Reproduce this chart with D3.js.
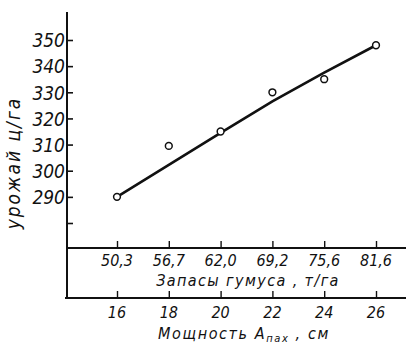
<!DOCTYPE html>
<html><head><meta charset="utf-8">
<script src="https://cdn.jsdelivr.net/npm/d3@7"></script>
<style>
body{margin:0;background:#fff;}
svg text{font-family:"DejaVu Sans Condensed","DejaVu Sans",sans-serif;font-stretch:condensed;font-style:italic;fill:#111;}
</style></head>
<body><svg id="c" width="406" height="344"></svg>
<script>
const thickness = [16, 18, 20, 22, 24, 26];
const humus = ["50,3", "56,7", "62,0", "69,2", "75,6", "81,6"];
const yieldVals = [290, 309.5, 315, 330, 335, 348];
const fitX = [16, 20, 22, 24, 26];
const fitY = [290, 314.5, 326.5, 337.5, 348];
const yTicks = [280, 290, 300, 310, 320, 330, 340, 350];
const yLabels = ["", "290", "300", "310", "320", "330", "340", "350"];

const svg = d3.select("#c");
const x = d3.scaleLinear().domain([16, 26]).range([117, 376]);
const y = d3.scaleLinear().domain([280, 350]).range([223, 40]);
const axX = 67, ax1 = 248, ax2 = 298;

// y axis
const ya = d3.axisLeft(y).tickValues(yTicks).tickSize(-6).tickFormat((d,i)=>yLabels[i]).tickPadding(4);
const gy = svg.append("g").attr("transform",`translate(${axX},0)`).call(ya);
gy.select(".domain").remove();
gy.selectAll(".tick line").attr("stroke","#111").attr("stroke-width",1.6);
gy.selectAll(".tick text").attr("font-size",19).attr("dy","0.36em").attr("x",-2);
svg.append("line").attr("x1",axX).attr("x2",axX).attr("y1",12).attr("y2",ax2+1)
  .attr("stroke","#111").attr("stroke-width",2);

// upper x axis (humus)
const xa1 = d3.axisTop(x).tickValues(thickness).tickSize(7).tickFormat("");
const g1 = svg.append("g").attr("transform",`translate(0,${ax1})`).call(xa1);
g1.select(".domain").remove();
g1.selectAll(".tick line").attr("stroke","#111").attr("stroke-width",1.4);
svg.append("line").attr("x1",axX-1).attr("x2",406).attr("y1",ax1).attr("y2",ax1)
  .attr("stroke","#111").attr("stroke-width",2);
svg.append("g").selectAll("text").data(thickness).join("text")
  .attr("x",d=>x(d)).attr("y",ax1+18).attr("text-anchor","middle").attr("font-size",16)
  .text((d,i)=>humus[i]);
svg.append("text").attr("x",248).attr("y",ax1+38).attr("text-anchor","middle")
  .attr("font-size",16).attr("letter-spacing",1.4).text("Запасы гумуса , т/га");

// lower x axis (thickness)
const xa2 = d3.axisTop(x).tickValues(thickness).tickSize(7).tickFormat("");
const g2 = svg.append("g").attr("transform",`translate(0,${ax2})`).call(xa2);
g2.select(".domain").remove();
g2.selectAll(".tick line").attr("stroke","#111").attr("stroke-width",1.4);
svg.append("line").attr("x1",axX-2).attr("x2",406).attr("y1",ax2).attr("y2",ax2)
  .attr("stroke","#111").attr("stroke-width",2);
svg.append("g").selectAll("text").data(thickness).join("text")
  .attr("x",d=>x(d)).attr("y",ax2+20).attr("text-anchor","middle").attr("font-size",16)
  .text(d=>d);
const t2 = svg.append("text").attr("x",244).attr("y",ax2+41).attr("text-anchor","middle")
  .attr("font-size",16).attr("letter-spacing",1.6);
t2.append("tspan").text("Мощность A");
t2.append("tspan").attr("font-size",11).attr("dy",3).text("пах");
t2.append("tspan").attr("dy",-3).text(" , см");

// y title
svg.append("text").attr("transform","translate(20,163) rotate(-90)").attr("text-anchor","middle")
  .attr("font-size",19).attr("letter-spacing",2).text("урожай ц/га");

// fit line
svg.append("path").datum(fitX.map((d,i)=>[d,fitY[i]]))
  .attr("d",d3.line().x(d=>x(d[0])).y(d=>y(d[1])))
  .attr("fill","none").attr("stroke","#111").attr("stroke-width",2.6);

// points
svg.append("g").selectAll("circle").data(thickness).join("circle")
  .attr("cx",d=>x(d)).attr("cy",(d,i)=>y(yieldVals[i])).attr("r",3.4)
  .attr("fill","#fff").attr("stroke","#111").attr("stroke-width",1.5);
</script></body></html>
